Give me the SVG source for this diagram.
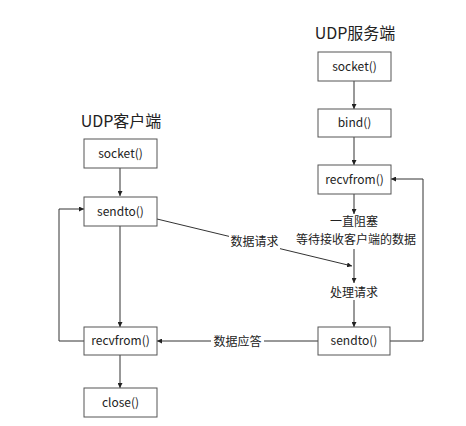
<svg xmlns="http://www.w3.org/2000/svg" width="466" height="426" viewBox="0 0 466 426">
<style>
.box{fill:#fff;stroke:#555;stroke-width:1}
.t{font-family:"Noto Sans CJK SC","Noto Sans",sans-serif;font-size:12px;fill:#222;text-anchor:middle}
.title{font-family:"Noto Sans CJK SC","Noto Sans",sans-serif;font-size:16px;fill:#222;text-anchor:middle}
.ln{fill:none;stroke:#333;stroke-width:1}
</style>
<defs>
<marker id="ah" viewBox="0 0 6 6" refX="6" refY="3" markerWidth="5" markerHeight="5" orient="auto" markerUnits="userSpaceOnUse"><path d="M0,0 L6,3 L0,6 z" fill="#222"/></marker>
</defs>
<rect width="466" height="426" fill="#fff"/>
<text class="title" x="121" y="127">UDP客户端</text>
<text class="title" x="355" y="39">UDP服务端</text>
<g id="connectors">
<path class="ln" d="M120,168 V196" marker-end="url(#ah)"/>
<path class="ln" d="M120,226 V327" marker-end="url(#ah)"/>
<path class="ln" d="M120,355 V388" marker-end="url(#ah)"/>
<path class="ln" d="M84,341 H59 V209 H84" marker-end="url(#ah)"/>
<path class="ln" d="M354,81 V109" marker-end="url(#ah)"/>
<path class="ln" d="M354,137 V165" marker-end="url(#ah)"/>
<path class="ln" d="M354,194 V214" marker-end="url(#ah)"/>
<path class="ln" d="M354,249 V283" marker-end="url(#ah)"/>
<path class="ln" d="M354,300 V327" marker-end="url(#ah)"/>
<path class="ln" d="M390,341 H423 V179 H391" marker-end="url(#ah)"/>
<path class="ln" d="M157,219 L352,266" marker-end="url(#ah)"/>
<path class="ln" d="M318,341 H157" marker-end="url(#ah)"/>
<rect x="229" y="234" width="51" height="15" fill="#fff"/>
<text class="t" x="254.5" y="246">数据请求</text>
<rect x="211" y="334" width="53" height="15" fill="#fff"/>
<text class="t" x="237.5" y="346">数据应答</text>
<text class="t" x="354" y="226">一直阻塞</text>
<text class="t" x="356" y="244">等待接收客户端的数据</text>
<text class="t" x="354" y="297">处理请求</text>
</g>
<g id="c_socket"><rect class="box" x="84" y="139" width="73" height="29"/><text class="t" x="120.5" y="158">socket()</text></g>
<g id="c_sendto"><rect class="box" x="84" y="197" width="73" height="29"/><text class="t" x="120.5" y="216">sendto()</text></g>
<g id="c_recvfrom"><rect class="box" x="84" y="327" width="73" height="28"/><text class="t" x="120.5" y="345">recvfrom()</text></g>
<g id="c_close"><rect class="box" x="84" y="388" width="73" height="29"/><text class="t" x="120.5" y="407">close()</text></g>
<g id="s_socket"><rect class="box" x="318" y="52" width="73" height="29"/><text class="t" x="354.5" y="71">socket()</text></g>
<g id="s_bind"><rect class="box" x="318" y="109" width="73" height="28"/><text class="t" x="354.5" y="127">bind()</text></g>
<g id="s_recvfrom"><rect class="box" x="318" y="165" width="73" height="29"/><text class="t" x="354.5" y="184">recvfrom()</text></g>
<g id="s_sendto"><rect class="box" x="318" y="327" width="72" height="28"/><text class="t" x="354" y="345">sendto()</text></g>
</svg>
